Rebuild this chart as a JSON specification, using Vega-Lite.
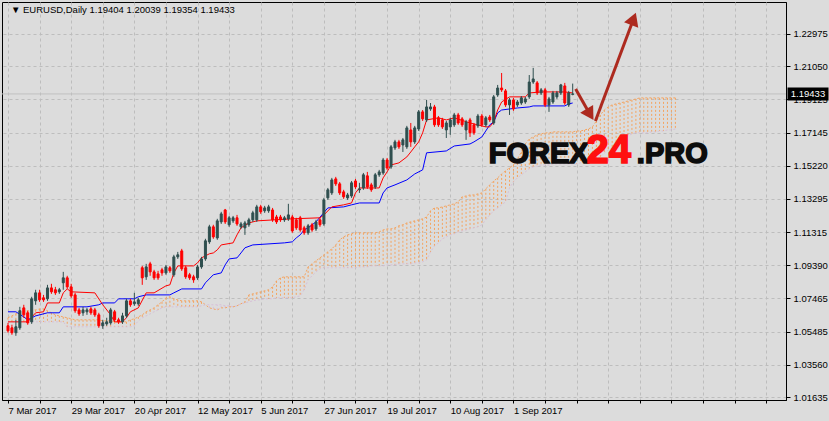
{
"$schema": "https://vega.github.io/schema/vega-lite/v6.json",
"width": 784, "height": 398,
"autosize": {"type": "none"},
"padding": {"left": 2, "top": 2, "right": 43, "bottom": 21},
"background": "#dcdcdc",
"config": {"view": {"stroke": "#000000", "strokeWidth": 1, "fill": "#dcdcdc"}, "font": "Liberation Sans",
 "axis": {"labelOverlap": false, "labelBound": false, "labelFlush": false, "labelSeparation": 0, "labelFont": "Liberation Sans", "labelFontSize": 9.5, "labelColor": "#000000", "tickColor": "#000000", "domainColor": "#000000", "gridColor": "#bdbdbd", "gridDash": [3, 3], "title": null}},
"datasets": {
"candles": [
{"i":0,"o":1.0584,"h":1.0601,"l":1.0543,"c":1.0554},
{"i":1,"o":1.0572,"h":1.0590,"l":1.0531,"c":1.0543},
{"i":2,"o":1.0543,"h":1.0619,"l":1.0525,"c":1.0578},
{"i":3,"o":1.0572,"h":1.0695,"l":1.0560,"c":1.0672},
{"i":4,"o":1.0689,"h":1.0707,"l":1.0631,"c":1.0648},
{"i":5,"o":1.0660,"h":1.0672,"l":1.0590,"c":1.0601},
{"i":6,"o":1.0607,"h":1.0754,"l":1.0595,"c":1.0742},
{"i":7,"o":1.0730,"h":1.0795,"l":1.0707,"c":1.0777},
{"i":8,"o":1.0777,"h":1.0795,"l":1.0724,"c":1.0736},
{"i":9,"o":1.0748,"h":1.0765,"l":1.0724,"c":1.0736},
{"i":10,"o":1.0742,"h":1.0824,"l":1.0730,"c":1.0806},
{"i":11,"o":1.0806,"h":1.0830,"l":1.0771,"c":1.0783},
{"i":12,"o":1.0795,"h":1.0812,"l":1.0765,"c":1.0777},
{"i":13,"o":1.0783,"h":1.0806,"l":1.0771,"c":1.0795},
{"i":14,"o":1.0836,"h":1.0900,"l":1.0795,"c":1.0865},
{"i":15,"o":1.0865,"h":1.0877,"l":1.0800,"c":1.0812},
{"i":16,"o":1.0812,"h":1.0830,"l":1.0748,"c":1.0759},
{"i":17,"o":1.0765,"h":1.0777,"l":1.0660,"c":1.0672},
{"i":18,"o":1.0677,"h":1.0689,"l":1.0642,"c":1.0654},
{"i":19,"o":1.0660,"h":1.0695,"l":1.0642,"c":1.0677},
{"i":20,"o":1.0666,"h":1.0689,"l":1.0648,"c":1.0677},
{"i":21,"o":1.0683,"h":1.0695,"l":1.0648,"c":1.0660},
{"i":22,"o":1.0677,"h":1.0689,"l":1.0636,"c":1.0648},
{"i":23,"o":1.0648,"h":1.0660,"l":1.0572,"c":1.0584},
{"i":24,"o":1.0584,"h":1.0619,"l":1.0566,"c":1.0601},
{"i":25,"o":1.0595,"h":1.0631,"l":1.0584,"c":1.0607},
{"i":26,"o":1.0601,"h":1.0689,"l":1.0590,"c":1.0677},
{"i":27,"o":1.0666,"h":1.0677,"l":1.0607,"c":1.0619},
{"i":28,"o":1.0619,"h":1.0631,"l":1.0595,"c":1.0607},
{"i":29,"o":1.0607,"h":1.0660,"l":1.0595,"c":1.0642},
{"i":30,"o":1.0642,"h":1.0742,"l":1.0631,"c":1.0730},
{"i":31,"o":1.0730,"h":1.0742,"l":1.0695,"c":1.0707},
{"i":32,"o":1.0713,"h":1.0777,"l":1.0701,"c":1.0724},
{"i":33,"o":1.0713,"h":1.0748,"l":1.0701,"c":1.0736},
{"i":34,"o":1.0924,"h":1.0935,"l":1.0824,"c":1.0865},
{"i":35,"o":1.0871,"h":1.0947,"l":1.0853,"c":1.0929},
{"i":36,"o":1.0947,"h":1.0959,"l":1.0877,"c":1.0900},
{"i":37,"o":1.0900,"h":1.0912,"l":1.0853,"c":1.0865},
{"i":38,"o":1.0888,"h":1.0906,"l":1.0853,"c":1.0865},
{"i":39,"o":1.0912,"h":1.0924,"l":1.0877,"c":1.0894},
{"i":40,"o":1.0894,"h":1.0941,"l":1.0883,"c":1.0929},
{"i":41,"o":1.0924,"h":1.0935,"l":1.0894,"c":1.0906},
{"i":42,"o":1.0883,"h":1.1000,"l":1.0871,"c":1.0988},
{"i":43,"o":1.0988,"h":1.1017,"l":1.0976,"c":1.1000},
{"i":44,"o":1.1023,"h":1.1035,"l":1.0906,"c":1.0918},
{"i":45,"o":1.0924,"h":1.0935,"l":1.0859,"c":1.0871},
{"i":46,"o":1.0883,"h":1.0894,"l":1.0853,"c":1.0865},
{"i":47,"o":1.0871,"h":1.0883,"l":1.0836,"c":1.0853},
{"i":48,"o":1.0865,"h":1.0941,"l":1.0853,"c":1.0929},
{"i":49,"o":1.0929,"h":1.0988,"l":1.0918,"c":1.0976},
{"i":50,"o":1.0976,"h":1.1094,"l":1.0965,"c":1.1082},
{"i":51,"o":1.1076,"h":1.1176,"l":1.1064,"c":1.1164},
{"i":52,"o":1.1164,"h":1.1176,"l":1.1094,"c":1.1105},
{"i":53,"o":1.1099,"h":1.1211,"l":1.1088,"c":1.1199},
{"i":54,"o":1.1193,"h":1.1252,"l":1.1181,"c":1.1240},
{"i":55,"o":1.1263,"h":1.1269,"l":1.1181,"c":1.1193},
{"i":56,"o":1.1176,"h":1.1228,"l":1.1164,"c":1.1217},
{"i":57,"o":1.1199,"h":1.1228,"l":1.1187,"c":1.1217},
{"i":58,"o":1.1217,"h":1.1234,"l":1.1170,"c":1.1181},
{"i":59,"o":1.1164,"h":1.1193,"l":1.1152,"c":1.1181},
{"i":60,"o":1.1158,"h":1.1199,"l":1.1117,"c":1.1187},
{"i":61,"o":1.1176,"h":1.1217,"l":1.1164,"c":1.1205},
{"i":62,"o":1.1205,"h":1.1258,"l":1.1193,"c":1.1246},
{"i":63,"o":1.1205,"h":1.1293,"l":1.1193,"c":1.1281},
{"i":64,"o":1.1281,"h":1.1293,"l":1.1240,"c":1.1252},
{"i":65,"o":1.1258,"h":1.1287,"l":1.1246,"c":1.1275},
{"i":66,"o":1.1258,"h":1.1293,"l":1.1246,"c":1.1281},
{"i":67,"o":1.1263,"h":1.1275,"l":1.1193,"c":1.1205},
{"i":68,"o":1.1222,"h":1.1234,"l":1.1181,"c":1.1193},
{"i":69,"o":1.1222,"h":1.1234,"l":1.1193,"c":1.1205},
{"i":70,"o":1.1205,"h":1.1228,"l":1.1193,"c":1.1217},
{"i":71,"o":1.1211,"h":1.1299,"l":1.1199,"c":1.1234},
{"i":72,"o":1.1222,"h":1.1234,"l":1.1129,"c":1.1140},
{"i":73,"o":1.1205,"h":1.1217,"l":1.1146,"c":1.1158},
{"i":74,"o":1.1217,"h":1.1228,"l":1.1135,"c":1.1146},
{"i":75,"o":1.1158,"h":1.1170,"l":1.1117,"c":1.1129},
{"i":76,"o":1.1129,"h":1.1181,"l":1.1117,"c":1.1170},
{"i":77,"o":1.1176,"h":1.1187,"l":1.1135,"c":1.1146},
{"i":78,"o":1.1152,"h":1.1205,"l":1.1140,"c":1.1193},
{"i":79,"o":1.1205,"h":1.1217,"l":1.1164,"c":1.1176},
{"i":80,"o":1.1181,"h":1.1334,"l":1.1170,"c":1.1322},
{"i":81,"o":1.1334,"h":1.1392,"l":1.1322,"c":1.1381},
{"i":82,"o":1.1363,"h":1.1451,"l":1.1351,"c":1.1439},
{"i":83,"o":1.1445,"h":1.1457,"l":1.1404,"c":1.1416},
{"i":84,"o":1.1416,"h":1.1427,"l":1.1351,"c":1.1363},
{"i":85,"o":1.1369,"h":1.1381,"l":1.1328,"c":1.1340},
{"i":86,"o":1.1334,"h":1.1363,"l":1.1322,"c":1.1351},
{"i":87,"o":1.1345,"h":1.1433,"l":1.1334,"c":1.1422},
{"i":88,"o":1.1433,"h":1.1445,"l":1.1386,"c":1.1398},
{"i":89,"o":1.1381,"h":1.1422,"l":1.1363,"c":1.1386},
{"i":90,"o":1.1392,"h":1.1480,"l":1.1381,"c":1.1469},
{"i":91,"o":1.1463,"h":1.1486,"l":1.1386,"c":1.1398},
{"i":92,"o":1.1410,"h":1.1422,"l":1.1369,"c":1.1381},
{"i":93,"o":1.1398,"h":1.1480,"l":1.1386,"c":1.1469},
{"i":94,"o":1.1469,"h":1.1498,"l":1.1457,"c":1.1486},
{"i":95,"o":1.1480,"h":1.1568,"l":1.1469,"c":1.1556},
{"i":96,"o":1.1556,"h":1.1568,"l":1.1498,"c":1.1509},
{"i":97,"o":1.1515,"h":1.1644,"l":1.1504,"c":1.1633},
{"i":98,"o":1.1627,"h":1.1674,"l":1.1615,"c":1.1662},
{"i":99,"o":1.1662,"h":1.1674,"l":1.1621,"c":1.1633},
{"i":100,"o":1.1644,"h":1.1685,"l":1.1603,"c":1.1674},
{"i":101,"o":1.1633,"h":1.1756,"l":1.1621,"c":1.1744},
{"i":102,"o":1.1732,"h":1.1773,"l":1.1633,"c":1.1662},
{"i":103,"o":1.1662,"h":1.1756,"l":1.1650,"c":1.1744},
{"i":104,"o":1.1738,"h":1.1849,"l":1.1726,"c":1.1838},
{"i":105,"o":1.1838,"h":1.1849,"l":1.1785,"c":1.1797},
{"i":106,"o":1.1791,"h":1.1908,"l":1.1779,"c":1.1867},
{"i":107,"o":1.1855,"h":1.1890,"l":1.1844,"c":1.1867},
{"i":108,"o":1.1867,"h":1.1879,"l":1.1750,"c":1.1762},
{"i":109,"o":1.1803,"h":1.1814,"l":1.1750,"c":1.1762},
{"i":110,"o":1.1791,"h":1.1803,"l":1.1738,"c":1.1750},
{"i":111,"o":1.1732,"h":1.1785,"l":1.1685,"c":1.1773},
{"i":112,"o":1.1750,"h":1.1803,"l":1.1703,"c":1.1791},
{"i":113,"o":1.1762,"h":1.1832,"l":1.1750,"c":1.1820},
{"i":114,"o":1.1820,"h":1.1832,"l":1.1762,"c":1.1773},
{"i":115,"o":1.1797,"h":1.1808,"l":1.1750,"c":1.1762},
{"i":116,"o":1.1732,"h":1.1791,"l":1.1674,"c":1.1779},
{"i":117,"o":1.1791,"h":1.1803,"l":1.1691,"c":1.1715},
{"i":118,"o":1.1762,"h":1.1773,"l":1.1703,"c":1.1715},
{"i":119,"o":1.1756,"h":1.1826,"l":1.1744,"c":1.1814},
{"i":120,"o":1.1814,"h":1.1826,"l":1.1750,"c":1.1762},
{"i":121,"o":1.1762,"h":1.1814,"l":1.1750,"c":1.1803},
{"i":122,"o":1.1808,"h":1.1820,"l":1.1779,"c":1.1791},
{"i":123,"o":1.1773,"h":1.1937,"l":1.1762,"c":1.1926},
{"i":124,"o":1.1937,"h":1.1996,"l":1.1926,"c":1.1978},
{"i":125,"o":1.1978,"h":1.2066,"l":1.1955,"c":1.1967},
{"i":126,"o":1.1961,"h":1.1972,"l":1.1867,"c":1.1879},
{"i":127,"o":1.1879,"h":1.1920,"l":1.1820,"c":1.1908},
{"i":128,"o":1.1908,"h":1.1920,"l":1.1844,"c":1.1855},
{"i":129,"o":1.1879,"h":1.1908,"l":1.1867,"c":1.1896},
{"i":130,"o":1.1890,"h":1.1931,"l":1.1879,"c":1.1920},
{"i":131,"o":1.1896,"h":1.1926,"l":1.1885,"c":1.1914},
{"i":132,"o":1.1926,"h":1.2054,"l":1.1914,"c":1.2013},
{"i":133,"o":1.2013,"h":1.2096,"l":1.2002,"c":1.2031},
{"i":134,"o":1.2008,"h":1.2019,"l":1.1937,"c":1.1949},
{"i":135,"o":1.1949,"h":1.1978,"l":1.1937,"c":1.1967},
{"i":136,"o":1.1967,"h":1.1978,"l":1.1867,"c":1.1879},
{"i":137,"o":1.1879,"h":1.1926,"l":1.1838,"c":1.1914},
{"i":138,"o":1.1896,"h":1.1961,"l":1.1885,"c":1.1949},
{"i":139,"o":1.1926,"h":1.1961,"l":1.1914,"c":1.1949},
{"i":140,"o":1.1949,"h":1.2002,"l":1.1937,"c":1.1996},
{"i":141,"o":1.1990,"h":1.2008,"l":1.1879,"c":1.1890},
{"i":142,"o":1.1879,"h":1.1961,"l":1.1867,"c":1.1949},
{"i":143,"o":1.19404,"h":1.20039,"l":1.19354,"c":1.19433}
],
"tenkan": [
{"i":0,"v":1.0607},{"i":5,"v":1.0607},{"i":7,"v":1.0660},{"i":9,"v":1.0666},{"i":10,"v":1.0718},{"i":13,"v":1.0718},{"i":14,"v":1.0777},{"i":15,"v":1.0800},{"i":16,"v":1.0783},{"i":22,"v":1.0777},{"i":24,"v":1.0707},{"i":26,"v":1.0648},{"i":27,"v":1.0607},{"i":29,"v":1.0607},{"i":30,"v":1.0631},{"i":31,"v":1.0666},{"i":33,"v":1.0689},{"i":35,"v":1.0777},{"i":37,"v":1.0777},{"i":40,"v":1.0818},{"i":41,"v":1.0824},{"i":42,"v":1.0894},{"i":43,"v":1.0935},{"i":47,"v":1.0935},{"i":48,"v":1.0953},{"i":49,"v":1.0982},{"i":51,"v":1.1006},{"i":52,"v":1.1011},{"i":53,"v":1.1029},{"i":54,"v":1.1058},{"i":57,"v":1.1070},{"i":58,"v":1.1117},{"i":59,"v":1.1158},{"i":61,"v":1.1187},{"i":63,"v":1.1199},{"i":72,"v":1.1211},{"i":79,"v":1.1217},{"i":80,"v":1.1234},{"i":82,"v":1.1281},{"i":85,"v":1.1293},{"i":87,"v":1.1304},{"i":88,"v":1.1363},{"i":89,"v":1.1392},{"i":94,"v":1.1392},{"i":95,"v":1.1451},{"i":96,"v":1.1486},{"i":97,"v":1.1527},{"i":99,"v":1.1539},{"i":101,"v":1.1574},{"i":102,"v":1.1603},{"i":103,"v":1.1633},{"i":104,"v":1.1662},{"i":105,"v":1.1715},{"i":106,"v":1.1791},{"i":109,"v":1.1803},{"i":111,"v":1.1791},{"i":113,"v":1.1803},{"i":117,"v":1.1773},{"i":121,"v":1.1750},{"i":122,"v":1.1750},{"i":123,"v":1.1779},{"i":124,"v":1.1849},{"i":125,"v":1.1896},{"i":127,"v":1.1926},{"i":131,"v":1.1926},{"i":132,"v":1.1949},{"i":135,"v":1.1955},{"i":141,"v":1.1955},{"i":143,"v":1.1949}
],
"kijun": [
{"i":0,"v":1.0666},{"i":2,"v":1.0666},{"i":4,"v":1.0636},{"i":5,"v":1.0619},{"i":6,"v":1.0631},{"i":7,"v":1.0642},{"i":10,"v":1.0660},{"i":13,"v":1.0660},{"i":14,"v":1.0695},{"i":20,"v":1.0695},{"i":23,"v":1.0707},{"i":24,"v":1.0718},{"i":27,"v":1.0718},{"i":28,"v":1.0742},{"i":32,"v":1.0742},{"i":33,"v":1.0754},{"i":35,"v":1.0765},{"i":41,"v":1.0765},{"i":42,"v":1.0777},{"i":44,"v":1.0800},{"i":49,"v":1.0800},{"i":50,"v":1.0836},{"i":52,"v":1.0883},{"i":54,"v":1.0894},{"i":55,"v":1.0941},{"i":56,"v":1.0976},{"i":58,"v":1.0982},{"i":59,"v":1.1011},{"i":60,"v":1.1041},{"i":62,"v":1.1058},{"i":70,"v":1.1070},{"i":72,"v":1.1076},{"i":73,"v":1.1099},{"i":74,"v":1.1117},{"i":75,"v":1.1146},{"i":76,"v":1.1158},{"i":78,"v":1.1193},{"i":81,"v":1.1275},{"i":85,"v":1.1281},{"i":87,"v":1.1293},{"i":89,"v":1.1304},{"i":94,"v":1.1304},{"i":95,"v":1.1363},{"i":96,"v":1.1392},{"i":98,"v":1.1410},{"i":101,"v":1.1439},{"i":103,"v":1.1474},{"i":105,"v":1.1498},{"i":106,"v":1.1598},{"i":111,"v":1.1609},{"i":113,"v":1.1638},{"i":117,"v":1.1650},{"i":118,"v":1.1662},{"i":120,"v":1.1691},{"i":122,"v":1.1762},{"i":123,"v":1.1779},{"i":124,"v":1.1832},{"i":125,"v":1.1849},{"i":129,"v":1.1861},{"i":132,"v":1.1867},{"i":133,"v":1.1873},{"i":141,"v":1.1873},{"i":142,"v":1.1885},{"i":143,"v":1.1890}
],
"cloud": [
{"i":0,"a":1.0631,"b":1.0607},{"i":1,"a":1.0642,"b":1.0607},{"i":2,"a":1.0654,"b":1.0607},{"i":3,"a":1.0660,"b":1.0607},{"i":4,"a":1.0666,"b":1.0607},{"i":5,"a":1.0672,"b":1.0607},{"i":6,"a":1.0677,"b":1.0607},{"i":7,"a":1.0677,"b":1.0607},{"i":8,"a":1.0683,"b":1.0607},{"i":9,"a":1.0683,"b":1.0607},
{"i":10,"a":1.0672,"b":1.0607},{"i":11,"a":1.0660,"b":1.0607},{"i":12,"a":1.0648,"b":1.0607},{"i":13,"a":1.0642,"b":1.0607},{"i":14,"a":1.0636,"b":1.0607},{"i":15,"a":1.0631,"b":1.0578},{"i":16,"a":1.0625,"b":1.0578},{"i":17,"a":1.0619,"b":1.0578},{"i":18,"a":1.0619,"b":1.0578},{"i":19,"a":1.0619,"b":1.0578},
{"i":20,"a":1.0619,"b":1.0578},{"i":21,"a":1.0619,"b":1.0578},{"i":22,"a":1.0619,"b":1.0578},{"i":23,"a":1.0619,"b":1.0578},{"i":24,"a":1.0613,"b":1.0578},{"i":25,"a":1.0613,"b":1.0578},{"i":26,"a":1.0613,"b":1.0578},{"i":27,"a":1.0607,"b":1.0578},{"i":28,"a":1.0607,"b":1.0578},{"i":29,"a":1.0607,"b":1.0578},
{"i":30,"a":1.0607,"b":1.0578},{"i":31,"a":1.0619,"b":1.0578},{"i":32,"a":1.0625,"b":1.0584},{"i":33,"a":1.0636,"b":1.0613},{"i":34,"a":1.0648,"b":1.0631},{"i":35,"a":1.0666,"b":1.0642},{"i":36,"a":1.0677,"b":1.0654},{"i":37,"a":1.0689,"b":1.0666},{"i":38,"a":1.0707,"b":1.0677},{"i":39,"a":1.0724,"b":1.0689},
{"i":40,"a":1.0748,"b":1.0695},{"i":41,"a":1.0754,"b":1.0695},{"i":42,"a":1.0742,"b":1.0695},{"i":43,"a":1.0736,"b":1.0695},{"i":44,"a":1.0730,"b":1.0695},{"i":45,"a":1.0730,"b":1.0695},{"i":46,"a":1.0730,"b":1.0695},{"i":47,"a":1.0730,"b":1.0695},{"i":48,"a":1.0730,"b":1.0695},{"i":49,"a":1.0724,"b":1.0701},
{"i":50,"a":1.0707,"b":1.0707},{"i":51,"a":1.0689,"b":1.0707},{"i":52,"a":1.0683,"b":1.0707},{"i":53,"a":1.0677,"b":1.0707},{"i":54,"a":1.0689,"b":1.0707},{"i":55,"a":1.0689,"b":1.0701},{"i":56,"a":1.0695,"b":1.0701},{"i":57,"a":1.0695,"b":1.0695},{"i":58,"a":1.0701,"b":1.0701},{"i":59,"a":1.0713,"b":1.0713},
{"i":60,"a":1.0724,"b":1.0718},{"i":61,"a":1.0765,"b":1.0724},{"i":62,"a":1.0771,"b":1.0730},{"i":63,"a":1.0777,"b":1.0736},{"i":64,"a":1.0783,"b":1.0736},{"i":65,"a":1.0789,"b":1.0742},{"i":66,"a":1.0795,"b":1.0742},{"i":67,"a":1.0812,"b":1.0742},{"i":68,"a":1.0847,"b":1.0748},{"i":69,"a":1.0865,"b":1.0748},
{"i":70,"a":1.0871,"b":1.0748},{"i":71,"a":1.0871,"b":1.0748},{"i":72,"a":1.0871,"b":1.0748},{"i":73,"a":1.0871,"b":1.0754},{"i":74,"a":1.0871,"b":1.0759},{"i":75,"a":1.0871,"b":1.0795},{"i":76,"a":1.0929,"b":1.0853},{"i":77,"a":1.0947,"b":1.0877},{"i":78,"a":1.0965,"b":1.0900},{"i":79,"a":1.0982,"b":1.0918},
{"i":80,"a":1.1000,"b":1.0924},{"i":81,"a":1.1017,"b":1.0924},{"i":82,"a":1.1035,"b":1.0924},{"i":83,"a":1.1058,"b":1.0924},{"i":84,"a":1.1088,"b":1.0924},{"i":85,"a":1.1105,"b":1.0924},{"i":86,"a":1.1117,"b":1.0924},{"i":87,"a":1.1123,"b":1.0924},{"i":88,"a":1.1129,"b":1.0924},{"i":89,"a":1.1129,"b":1.0929},
{"i":90,"a":1.1129,"b":1.0929},{"i":91,"a":1.1129,"b":1.0929},{"i":92,"a":1.1129,"b":1.0935},{"i":93,"a":1.1129,"b":1.0935},{"i":94,"a":1.1134,"b":1.0935},{"i":95,"a":1.1146,"b":1.0935},{"i":96,"a":1.1152,"b":1.0941},{"i":97,"a":1.1152,"b":1.0941},{"i":98,"a":1.1158,"b":1.0941},{"i":99,"a":1.1170,"b":1.0947},
{"i":100,"a":1.1176,"b":1.0947},{"i":101,"a":1.1187,"b":1.0947},{"i":102,"a":1.1193,"b":1.0947},{"i":103,"a":1.1199,"b":1.0953},{"i":104,"a":1.1205,"b":1.0953},{"i":105,"a":1.1211,"b":1.0959},{"i":106,"a":1.1222,"b":1.0970},{"i":107,"a":1.1258,"b":1.1017},{"i":108,"a":1.1275,"b":1.1052},{"i":109,"a":1.1275,"b":1.1070},
{"i":110,"a":1.1281,"b":1.1093},{"i":111,"a":1.1287,"b":1.1105},{"i":112,"a":1.1293,"b":1.1117},{"i":113,"a":1.1299,"b":1.1123},{"i":114,"a":1.1310,"b":1.1134},{"i":115,"a":1.1340,"b":1.1140},{"i":116,"a":1.1345,"b":1.1146},{"i":117,"a":1.1351,"b":1.1152},{"i":118,"a":1.1351,"b":1.1158},{"i":119,"a":1.1357,"b":1.1164},
{"i":120,"a":1.1363,"b":1.1176},{"i":121,"a":1.1387,"b":1.1205},{"i":122,"a":1.1410,"b":1.1234},{"i":123,"a":1.1433,"b":1.1258},{"i":124,"a":1.1451,"b":1.1275},{"i":125,"a":1.1474,"b":1.1293},{"i":126,"a":1.1492,"b":1.1310},{"i":127,"a":1.1510,"b":1.1392},{"i":128,"a":1.1527,"b":1.1428},{"i":129,"a":1.1562,"b":1.1451},
{"i":130,"a":1.1603,"b":1.1469},{"i":131,"a":1.1650,"b":1.1486},{"i":132,"a":1.1679,"b":1.1504},{"i":133,"a":1.1691,"b":1.1515},{"i":134,"a":1.1703,"b":1.1521},{"i":135,"a":1.1709,"b":1.1527},{"i":136,"a":1.1715,"b":1.1527},{"i":137,"a":1.1715,"b":1.1527},{"i":138,"a":1.1721,"b":1.1533},{"i":139,"a":1.1721,"b":1.1533},
{"i":140,"a":1.1721,"b":1.1533},{"i":141,"a":1.1721,"b":1.1533},{"i":142,"a":1.1721,"b":1.1533},{"i":143,"a":1.1721,"b":1.1533},{"i":144,"a":1.1726,"b":1.1533},{"i":145,"a":1.1726,"b":1.1539},{"i":146,"a":1.1732,"b":1.1545},{"i":147,"a":1.1738,"b":1.1545},{"i":148,"a":1.1750,"b":1.1551},{"i":149,"a":1.1785,"b":1.1556},
{"i":150,"a":1.1820,"b":1.1574},{"i":151,"a":1.1849,"b":1.1597},{"i":152,"a":1.1867,"b":1.1615},{"i":153,"a":1.1879,"b":1.1627},{"i":154,"a":1.1885,"b":1.1650},{"i":155,"a":1.1890,"b":1.1668},{"i":156,"a":1.1896,"b":1.1685},{"i":157,"a":1.1902,"b":1.1697},{"i":158,"a":1.1908,"b":1.1709},{"i":159,"a":1.1914,"b":1.1715},
{"i":160,"a":1.1920,"b":1.1715},{"i":161,"a":1.1920,"b":1.1715},{"i":162,"a":1.1920,"b":1.1715},{"i":163,"a":1.1920,"b":1.1721},{"i":164,"a":1.1920,"b":1.1721},{"i":165,"a":1.1920,"b":1.1726},{"i":166,"a":1.1920,"b":1.1726},{"i":167,"a":1.1920,"b":1.1732},{"i":168,"a":1.1920,"b":1.1732},{"i":169,"a":1.1920,"b":1.1738}
],
"wm": [{"t":"FOREX","i":121.75,"p":1.1539},{"t":"24","i":146.5,"p":1.1539},{"t":".PRO","i":159.25,"p":1.1539}],
"arrows": [{"k":1,"x1":143.75,"y1":1.19725,"x2":147.4,"y2":1.1823},{"k":2,"x1":148.75,"y1":1.1785,"x2":158.4,"y2":1.2383}],
"header": [{"t":"▼ EURUSD,Daily  1.19404 1.20039 1.19354 1.19433","i":0.75,"p":1.2435}],
"last": [{"i":195.75,"p":1.19433,"t":"1.19433"}]
},
"layer": [
{"data": {"name": "cloud"},
 "mark": {"type": "rule", "strokeDash": [2, 2], "strokeWidth": 1},
 "encoding": {
  "x": {"field": "i", "type": "quantitative", "title": null, "scale": {"domain": [-0.25, 195.75], "nice": false, "zero": false},
   "axis": {"title": null, "tickCount": 100, "values": [0,8,16,24,32,40,48,56,64,72,80,88,96,104,112,120,128,136,144,152,160,168,176,184,192],
    "labelExpr": "datum.value == 0 ? '7 Mar 2017' : datum.value == 16 ? '29 Mar 2017' : datum.value == 32 ? '20 Apr 2017' : datum.value == 48 ? '12 May 2017' : datum.value == 64 ? '5 Jun 2017' : datum.value == 80 ? '27 Jun 2017' : datum.value == 96 ? '19 Jul 2017' : datum.value == 112 ? '10 Aug 2017' : datum.value == 128 ? '1 Sep 2017' : ''",
    "labelAlign": "left", "tickSize": 3, "labelPadding": 2, "grid": true, "labelOverlap": false}},
  "y": {"field": "a", "type": "quantitative", "title": null, "scale": {"domain": [1.01488, 1.24822], "nice": false, "zero": false},
   "axis": {"title": null, "orient": "right", "tickCount": 100, "values": [1.01635,1.0356,1.05485,1.07465,1.0939,1.11315,1.13295,1.1522,1.17145,1.19125,1.2105,1.22975],
    "labelExpr": "format(datum.value, '.5f')", "tickSize": 4, "labelPadding": 3, "labelOverlap": false, "grid": true}},
  "y2": {"field": "b"},
  "color": {"condition": {"test": "datum.a >= datum.b", "value": "#f4a460"}, "value": "#d8bfd8"}
 }},
{"data": {"name": "cloud"},
 "mark": {"type": "line", "strokeDash": [2, 2], "strokeWidth": 1, "color": "#f4a460"},
 "encoding": {"x": {"field": "i", "type": "quantitative", "title": null}, "y": {"field": "a", "type": "quantitative", "title": null}}},
{"data": {"name": "cloud"},
 "mark": {"type": "line", "strokeDash": [2, 2], "strokeWidth": 1, "color": "#d8bfd8"},
 "encoding": {"x": {"field": "i", "type": "quantitative", "title": null}, "y": {"field": "b", "type": "quantitative", "title": null}}},
{"data": {"name": "last"},
 "mark": {"type": "rule", "color": "#c0c0c0", "strokeWidth": 1},
 "encoding": {"y": {"field": "p", "type": "quantitative", "title": null}}},
{"data": {"name": "kijun"},
 "mark": {"type": "line", "color": "#0000ff", "strokeWidth": 1},
 "encoding": {"x": {"field": "i", "type": "quantitative", "title": null}, "y": {"field": "v", "type": "quantitative", "title": null}}},
{"data": {"name": "tenkan"},
 "mark": {"type": "line", "color": "#ff0000", "strokeWidth": 1},
 "encoding": {"x": {"field": "i", "type": "quantitative", "title": null}, "y": {"field": "v", "type": "quantitative", "title": null}}},
{"data": {"name": "candles"},
 "mark": {"type": "rule", "strokeWidth": 1},
 "encoding": {"x": {"field": "i", "type": "quantitative", "title": null}, "y": {"field": "l", "type": "quantitative", "title": null}, "y2": {"field": "h"},
  "color": {"condition": {"test": "datum.c >= datum.o", "value": "#2f4f4f"}, "value": "#ff0000"}}},
{"data": {"name": "candles"},
 "mark": {"type": "bar", "size": 2, "strokeWidth": 1},
 "encoding": {"x": {"field": "i", "type": "quantitative", "title": null}, "y": {"field": "o", "type": "quantitative", "title": null}, "y2": {"field": "c"},
  "fill": {"condition": {"test": "datum.c >= datum.o", "value": "#2f4f4f"}, "value": "#ff0000"},
  "stroke": {"condition": {"test": "datum.c >= datum.o", "value": "#2f4f4f"}, "value": "#ff0000"}}},
{"data": {"name": "wm"},
 "mark": {"type": "text", "align": "left", "baseline": "alphabetic", "font": "Liberation Sans", "fontWeight": "bold", "strokeWidth": 1.6},
 "encoding": {"x": {"field": "i", "type": "quantitative", "title": null}, "y": {"field": "p", "type": "quantitative", "title": null}, "text": {"field": "t"},
  "color": {"condition": {"test": "datum.t == '24'", "value": "#ff1010"}, "value": "#0d0d0d"},
  "stroke": {"condition": {"test": "datum.t == '24'", "value": "#ff1010"}, "value": "#0d0d0d"},
  "size": {"condition": {"test": "datum.t == '24'", "value": 40}, "value": 29}}},
{"data": {"name": "arrows"},
 "mark": {"type": "rule", "strokeWidth": 3, "color": "#ad2a1f"},
 "encoding": {"x": {"field": "x1", "type": "quantitative", "title": null}, "y": {"field": "y1", "type": "quantitative", "title": null}, "x2": {"field": "x2"}, "y2": {"field": "y2"}}},
{"data": {"name": "arrows"},
 "transform": [{"filter": "datum.k == 1"}],
 "mark": {"type": "point", "shape": "triangle-up", "filled": true, "size": 230, "angle": 148.5, "color": "#ad2a1f", "opacity": 1},
 "encoding": {"x": {"field": "x2", "type": "quantitative", "title": null}, "y": {"field": "y2", "type": "quantitative", "title": null}}},
{"data": {"name": "arrows"},
 "transform": [{"filter": "datum.k == 2"}],
 "mark": {"type": "point", "shape": "triangle-up", "filled": true, "size": 230, "angle": 21, "color": "#ad2a1f", "opacity": 1},
 "encoding": {"x": {"field": "x2", "type": "quantitative", "title": null}, "y": {"field": "y2", "type": "quantitative", "title": null}}},
{"data": {"name": "header"},
 "mark": {"type": "text", "align": "left", "baseline": "middle", "font": "Liberation Sans", "fontSize": 9.5, "color": "#000000"},
 "encoding": {"x": {"field": "i", "type": "quantitative", "title": null}, "y": {"field": "p", "type": "quantitative", "title": null}, "text": {"field": "t"}}},
{"data": {"name": "last"},
 "mark": {"type": "rect", "width": 41, "height": 13, "xOffset": 27, "color": "#000000"},
 "encoding": {"x": {"field": "i", "type": "quantitative", "title": null}, "y": {"field": "p", "type": "quantitative", "title": null}}},
{"data": {"name": "last"},
 "mark": {"type": "text", "align": "center", "baseline": "middle", "xOffset": 27, "font": "Liberation Sans", "fontSize": 9.5, "color": "#ffffff"},
 "encoding": {"x": {"field": "i", "type": "quantitative", "title": null}, "y": {"field": "p", "type": "quantitative", "title": null}, "text": {"field": "t"}}}
]
}
